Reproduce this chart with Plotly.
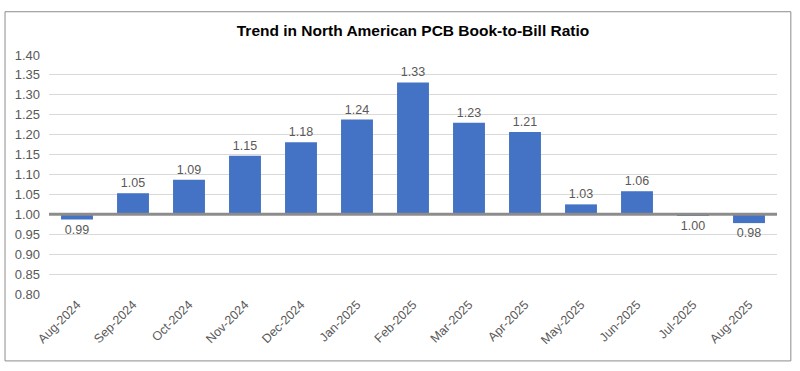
import plotly.graph_objects as go

months = ["Aug-2024", "Sep-2024", "Oct-2024", "Nov-2024", "Dec-2024", "Jan-2025",
          "Feb-2025", "Mar-2025", "Apr-2025", "May-2025", "Jun-2025", "Jul-2025", "Aug-2025"]
ratios = [0.987, 1.053, 1.087, 1.147, 1.181, 1.238, 1.331, 1.230, 1.207, 1.025, 1.058, 0.998, 0.978]
labels = ["0.99", "1.05", "1.09", "1.15", "1.18", "1.24", "1.33", "1.23", "1.21", "1.03", "1.06", "1.00", "0.98"]
baseline = 1.0

FONT = "Liberation Sans, Arial"

fig = go.Figure()
fig.add_trace(go.Bar(
    x=months,
    y=[r - baseline for r in ratios],
    base=baseline,
    text=labels,
    textposition="outside",
    textfont=dict(family=FONT, size=12.5, color="#595959"),
    marker=dict(color="#4472C4", line=dict(width=0)),
    cliponaxis=False,
))

fig.add_shape(type="line", xref="paper", yref="y", x0=0, x1=1, y0=baseline, y1=baseline,
              line=dict(color="#8C8C8C", width=3), layer="above")
fig.add_shape(type="rect", xref="paper", yref="paper", x0=-0.0604, x1=1.019, y0=-0.28, y1=1.181,
              line=dict(color="#8C8C8C", width=1), fillcolor="rgba(0,0,0,0)")

fig.update_layout(
    width=800, height=371,
    margin=dict(l=49, r=23, t=55, b=77),
    paper_bgcolor="white", plot_bgcolor="white",
    showlegend=False,
    bargap=0.43,
    title=dict(text="<b>Trend in North American PCB Book-to-Bill Ratio</b>",
               x=0.5, xref="paper", xanchor="center", y=0.918, yanchor="middle",
               font=dict(family=FONT, size=15.5, color="#000000")),
    font=dict(family=FONT, size=12, color="#595959"),
)
fig.update_yaxes(range=[0.8, 1.4], dtick=0.05, tick0=0.8, tickformat=".2f",
                 showgrid=True, gridcolor="#D9D9D9", gridwidth=1, zeroline=False,
                 showline=False, ticks="", ticklabelstandoff=8,
                 tickfont=dict(family=FONT, size=13, color="#595959"))
fig.update_xaxes(tickangle=-45, showgrid=False, showline=False, ticks="",
                 tickfont=dict(family=FONT, size=12.5, color="#595959"))

fig.write_html("out.html", config={"displayModeBar": False},
               post_script="document.body.style.margin='0';")
